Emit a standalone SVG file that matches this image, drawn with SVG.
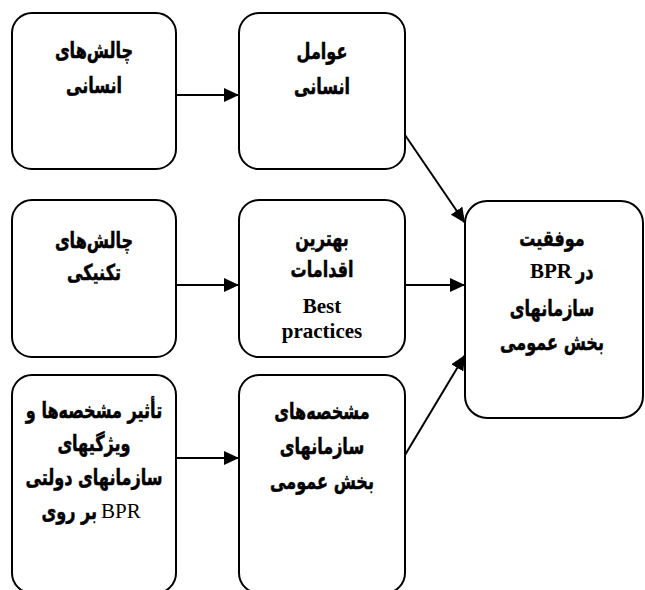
<svg xmlns="http://www.w3.org/2000/svg" width="645" height="590" viewBox="0 0 645 590">
<style>
.box{fill:#fff;stroke:#000;stroke-width:2}
.fa{font-family:"DejaVu Sans",sans-serif;font-weight:bold;font-size:22px;fill:#000;stroke:#000;stroke-width:0.5}
.en{font-family:"Liberation Serif",serif;font-weight:bold;font-size:21px;fill:#000}
.enr{font-family:"Liberation Serif",serif;font-size:21px;fill:#000}
.c{stroke:#000;stroke-width:2;fill:none;marker-end:url(#ah)}
</style>
<defs>
<marker id="ah" viewBox="0 0 15 14" refX="15" refY="7" markerWidth="15" markerHeight="14" markerUnits="userSpaceOnUse" orient="auto">
<path d="M0,0 L15,7 L0,14 Z" fill="#000"/>
</marker>
</defs>
<rect width="645" height="590" fill="#fff"/>
<g id="connectors">
<line class="c" x1="176" y1="95" x2="239" y2="95"/>
<line class="c" x1="176" y1="285" x2="239" y2="285"/>
<line class="c" x1="176" y1="458" x2="239" y2="458"/>
<line class="c" x1="405" y1="285" x2="465" y2="285"/>
<line class="c" x1="405" y1="135" x2="465" y2="223"/>
<line class="c" x1="405" y1="455" x2="465" y2="355"/>
</g>
<g id="n1">
<rect class="box" x="12" y="13" width="164" height="156" rx="20"/>
<text class="fa" text-anchor="middle" transform="matrix(0.73 0 0 1 25.38 0)"><tspan x="94" y="58">چالش&#x200C;های</tspan><tspan x="94" y="93">انسانی</tspan></text>
</g>
<g id="n2">
<rect class="box" x="239" y="13" width="166" height="156" rx="20"/>
<text class="fa" text-anchor="middle" transform="matrix(0.73 0 0 1 86.94 0)"><tspan x="322" y="59">عوامل</tspan><tspan x="322" y="94">انسانی</tspan></text>
</g>
<g id="n3">
<rect class="box" x="12" y="200" width="164" height="157" rx="20"/>
<text class="fa" text-anchor="middle" transform="matrix(0.73 0 0 1 25.38 0)"><tspan x="94" y="248">چالش&#x200C;های</tspan><tspan x="94" y="280">تکنیکی</tspan></text>
</g>
<g id="n4">
<rect class="box" x="239" y="200" width="166" height="157" rx="20"/>
<text class="fa" text-anchor="middle" transform="matrix(0.73 0 0 1 86.94 0)"><tspan x="322" y="246">بهترین</tspan><tspan x="322" y="277">اقدامات</tspan></text>
<text class="en" text-anchor="middle"><tspan x="322" y="313">Best</tspan><tspan x="322" y="338">practices</tspan></text>
</g>
<g id="n5">
<rect class="box" x="465" y="201" width="178" height="217" rx="22"/>
<text class="fa" text-anchor="middle" transform="matrix(0.73 0 0 1 149.04 0)"><tspan x="552" y="246">موفقیت</tspan><tspan x="552" y="316">سازمانهای</tspan><tspan x="552" y="350">بخش عمومی</tspan></text>
<text class="en" text-anchor="end" x="572" y="278">BPR</text>
<text class="fa" text-anchor="start" x="576" y="279" transform="matrix(0.73 0 0 1 155.52 0)">در</text>
</g>
<g id="n6">
<rect class="box" x="12" y="375" width="164" height="218" rx="20"/>
<text class="fa" text-anchor="middle" transform="matrix(0.73 0 0 1 25.38 0)"><tspan x="94" y="418">تأثیر مشخصه&#x200C;ها و</tspan><tspan x="94" y="451">ویژگیهای</tspan><tspan x="94" y="485">سازمانهای دولتی</tspan></text>
<text class="fa" text-anchor="end" x="97" y="519" transform="matrix(0.73 0 0 1 26.19 0)">بر روی</text>
<text class="enr" text-anchor="start" x="101" y="518">BPR</text>
</g>
<g id="n7">
<rect class="box" x="239" y="375" width="166" height="218" rx="20"/>
<text class="fa" text-anchor="middle" transform="matrix(0.73 0 0 1 86.94 0)"><tspan x="322" y="419">مشخصه&#x200C;های</tspan><tspan x="322" y="454">سازمانهای</tspan><tspan x="322" y="489">بخش عمومی</tspan></text>
</g>
</svg>
